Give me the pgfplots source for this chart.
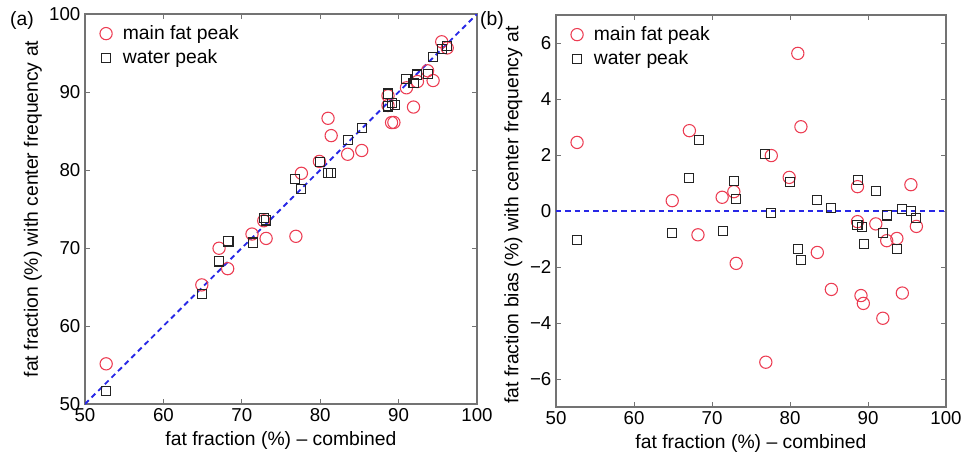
\documentclass[border=0pt]{standalone}
\usepackage{fontspec}
\setmainfont{Liberation Sans}
\usepackage{pgfplots}
\usepackage{pgfplotstable}
\pgfplotsset{compat=1.18}
\definecolor{fatred}{RGB}{236,60,82}
\definecolor{waterk}{RGB}{35,35,35}
\definecolor{lineblue}{RGB}{40,40,230}

\pgfplotstableread{
x ff bias
52.7 55.15 2.45
64.9 65.27 0.37
67.1 69.97 2.87
68.2 67.35 -0.85
71.3 71.79 0.49
72.8 73.49 0.69
73.1 71.23 -1.87
76.9 71.50 -5.40
77.6 79.58 1.98
79.9 81.10 1.20
81.0 86.63 5.63
81.4 84.41 3.01
83.5 82.02 -1.48
85.3 82.50 -2.80
88.65 89.52 0.87
88.65 88.27 -0.38
89.1 86.08 -3.02
89.4 86.10 -3.30
91.0 90.54 -0.46
91.9 88.07 -3.83
92.4 91.34 -1.06
93.7 92.72 -0.98
94.4 91.47 -2.93
95.5 96.44 0.94
96.2 95.65 -0.55
}\fattab

\pgfplotstableread{
x ff bias
52.7 51.68 -1.02
64.9 64.11 -0.79
67.1 68.27 1.17
68.3 70.84 2.54
71.4 70.70 -0.70
72.8 73.88 1.08
73.1 73.53 0.43
76.8 78.84 2.04
77.6 77.52 -0.08
80.0 81.05 1.05
81.0 79.64 -1.36
81.4 79.65 -1.75
83.5 83.89 0.39
85.3 85.40 0.10
88.7 89.80 1.10
88.65 88.15 -0.50
89.2 88.64 -0.56
89.5 88.32 -1.18
91.0 91.70 0.70
91.9 91.11 -0.79
92.4 92.24 -0.16
93.7 92.34 -1.36
94.4 94.47 0.07
95.5 95.49 -0.01
96.2 95.95 -0.25
}\watertab

\pgfplotsset{
  mystyle/.style={
    scale only axis,
    xmin=50, xmax=100, xtick={50,60,...,100},
    tick align=inside, major tick length=3.75pt,
    axis line style={black!55, line width=0.8pt},
    every tick/.style={black!55, line width=0.6pt},
    tick label style={font=\fontsize{14}{16}\selectfont, black},
    label style={font=\fontsize{14.5}{17}\selectfont},
    /pgf/number format/assume math mode=true,
    xlabel={fat fraction (\%) – combined},
    xlabel style={at={(axis description cs:0.5,0)}, anchor=center, yshift=-27pt},
    legend style={draw=none, fill=none, font=\fontsize{14.5}{17}\selectfont,
      at={(axis description cs:0,1)}, anchor=north west, row sep=2pt,
      column sep=6pt, xshift=8pt, yshift=-4.5pt},
    legend cell align=left,
  },
  fatmark/.style={only marks, mark=o, mark size=4.6pt, fatred, mark options={line width=0.8pt}},
  watmark/.style={only marks, mark=square, mark size=3.4pt, waterk, mark options={line width=0.8pt}},
}

\begin{document}
\begin{tikzpicture}
\path[use as bounding box] (0,0) rectangle (727.5pt,343.5pt);

\begin{axis}[mystyle,
  at={(63.75pt,40.5pt)}, anchor=south west,
  width=294pt, height=292.5pt,
  ymin=50, ymax=100, ytick={50,60,...,100},
  ylabel={fat fraction (\%)  with center frequency at},
  ylabel style={at={(axis description cs:0,0.5)}, anchor=center, yshift=39pt},
]
\addplot[fatmark] table[x=x, y=ff] {\fattab};
\addlegendentry{main fat peak}
\addplot[watmark] table[x=x, y=ff] {\watertab};
\addlegendentry{water peak}
\addplot[lineblue, line width=1.4pt, dash pattern=on 4pt off 3pt, forget plot] coordinates {(50,50) (100,100)};
\end{axis}

\begin{axis}[mystyle,
  at={(417pt,38.25pt)}, anchor=south west,
  width=292.5pt, height=294pt,
  ymin=-7, ymax=7, ytick={-6,-4,-2,0,2,4,6},
  yticklabels={−6,−4,−2,0,2,4,6},
  ylabel={fat fraction bias (\%) with center frequency at},
  ylabel style={at={(axis description cs:0,0.49)}, anchor=center, yshift=32pt},
]
\addplot[fatmark] table[x=x, y=bias] {\fattab};
\addlegendentry{main fat peak}
\addplot[watmark] table[x=x, y=bias] {\watertab};
\addlegendentry{water peak}
\addplot[lineblue, line width=1.4pt, dash pattern=on 4pt off 3pt, forget plot] coordinates {(50,0) (100,0)};
\end{axis}

\node[font=\fontsize{14.5}{17}\selectfont] at (16.5pt,328.5pt) {(a)};
\node[font=\fontsize{14.5}{17}\selectfont] at (369pt,328.5pt) {(b)};
\end{tikzpicture}
\end{document}
